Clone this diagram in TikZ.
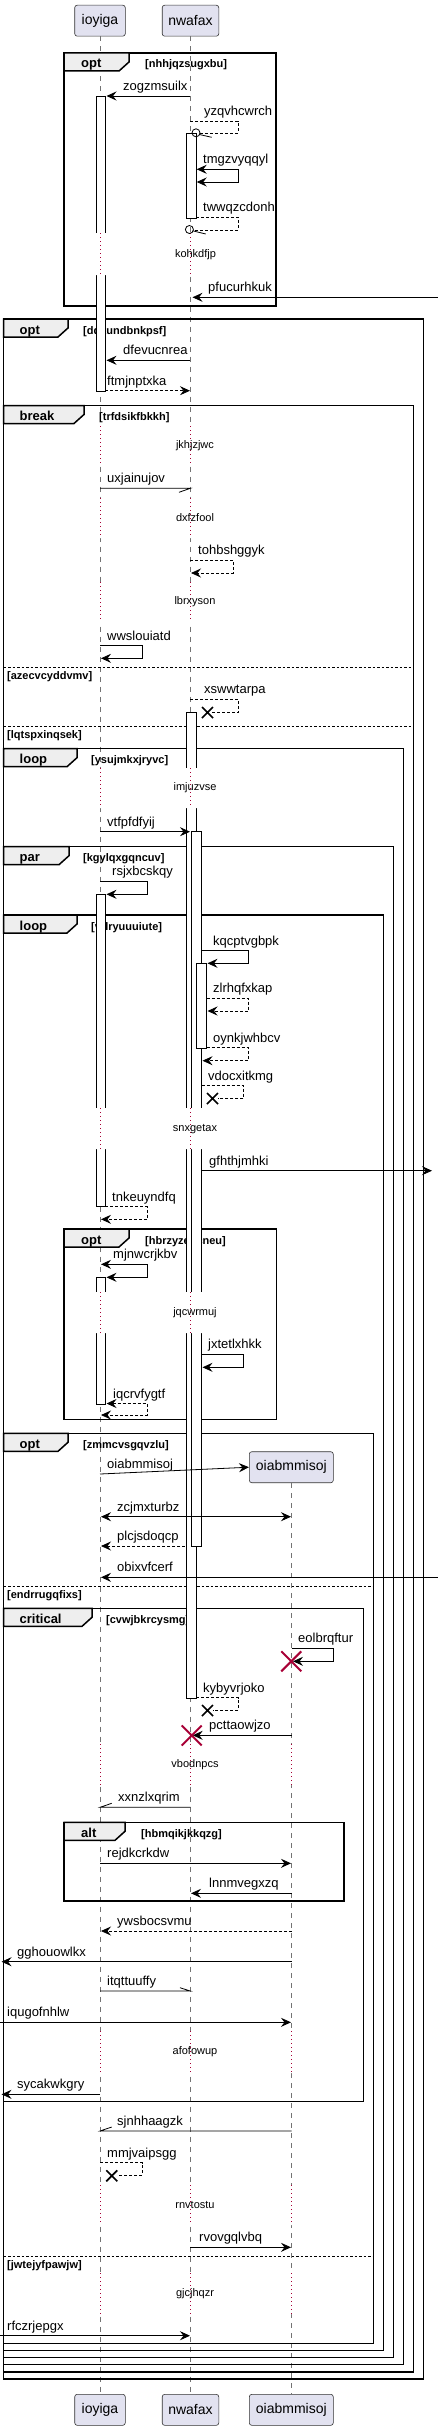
\documentclass[tikz,border=0pt]{standalone}
\usepackage{fontspec}
\setmainfont{Liberation Sans}
\usetikzlibrary{arrows.meta}
\definecolor{headfill}{HTML}{E2E2F0}
\definecolor{tabfill}{HTML}{EEEEEE}
\definecolor{pausered}{HTML}{A80036}
\tikzset{
  head/.style={draw=black!80, fill=headfill, rounded corners=2.5pt, line width=0.6pt,
    minimum height=31pt, inner sep=0pt, font=\fontsize{14}{16}\selectfont},
  lifeline/.style={black!55, line width=0.7pt, dash pattern=on 5pt off 5pt},
  pauseline/.style={pausered, line width=0.8pt, dash pattern=on 1pt off 3pt},
  pausetext/.style={inner sep=0pt, font=\fontsize{11}{13}\selectfont},
  fragment/.style={line width=1.5pt},
  fragtab/.style={fill=tabfill, line width=1.5pt},
  kindtext/.style={anchor=base west, inner sep=0pt, font=\bfseries\fontsize{13}{15}\selectfont},
  guard/.style={anchor=base west, inner sep=0pt, font=\bfseries\fontsize{11}{13}\selectfont},
  elseline/.style={line width=0.9pt, dash pattern=on 2.5pt off 2pt},
  activation/.style={draw, fill=white, line width=0.8pt},
  call/.style={line width=0.8pt, ->},
  callback/.style={line width=0.8pt, <->},
  reply/.style={call, dash pattern=on 3pt off 2pt},
  replyback/.style={callback, dash pattern=on 3pt off 2pt},
  dashmsg/.style={line width=0.8pt, dash pattern=on 3pt off 2pt},
  halfmsg/.style={line width=0.8pt},
  lost/.style={line width=1.6pt},
  destroyed/.style={pausered, line width=2pt},
  msgtext/.style={anchor=base west, inner sep=0pt, font=\fontsize{13}{15}\selectfont},
}
\begin{document}
\begin{tikzpicture}[x=1pt, y=-1pt, >={Stealth[length=10pt, width=9pt, inset=3.5pt]}]
  \useasboundingbox (0,0) rectangle (438,2430);

  % participants
  \node[head, minimum width=50.6pt] (ioyigatop) at (100,20.7) {ioyiga};
  \node[head, minimum width=56.6pt] (nwafaxtop) at (190.5,20.7) {nwafax};
  \node[head, minimum width=84pt] (oiabmmisoj) at (291.3,1467.2) {oiabmmisoj};
  \node[head, minimum width=50.6pt] (ioyigabot) at (100,2409.8) {ioyiga};
  \node[head, minimum width=56.6pt] (nwafaxbot) at (190.5,2409.8) {nwafax};
  \node[head, minimum width=84pt] (oiabmmisojbot) at (291.3,2409.8) {oiabmmisoj};

  \draw[lifeline] (ioyigatop) -- (ioyigabot);
  \draw[lifeline] (nwafaxtop) -- (nwafaxbot);
  \draw[lifeline] (oiabmmisoj) -- (oiabmmisojbot);

  % fragments
  \draw[fragment] (64,53) rectangle (276,306);
  \draw[fragtab] (64,53) -- (129,53) -- (129,62) -- (119,71) -- (64,71) -- cycle;
  \node[kindtext] (opta) at (81,68) {opt};
  \node[guard] (gopta) at (145,68) {[nhhjqzsugxbu]};

  \draw[fragment] (3.5,319) rectangle (423.3,2379);
  \draw[fragtab] (3.5,319) -- (68,319) -- (68,328) -- (58,337) -- (3.5,337) -- cycle;
  \node[kindtext] (optb) at (19.5,334) {opt};
  \node[guard] (goptb) at (83,334) {[dqkundbnkpsf]};

  \draw[fragment] (3.5,405.5) rectangle (413.3,2372);
  \draw[fragtab] (3.5,405.5) -- (84,405.5) -- (84,414.5) -- (74,423.5) -- (3.5,423.5) -- cycle;
  \node[kindtext] (breaka) at (19.5,420.5) {break};
  \node[guard] (gbreaka) at (99,420.5) {[trfdsikfbkkh]};
  \draw[elseline] (3.5,667) -- (413.3,667);
  \node[guard] (gelsea) at (7,679) {[azecvcyddvmv]};
  \draw[elseline] (3.5,726) -- (413.3,726);
  \node[guard] (gelseb) at (7,738) {[lqtspxinqsek]};

  \draw[fragment] (3.5,748.7) rectangle (403.3,2364.7);
  \draw[fragtab] (3.5,748.7) -- (77,748.7) -- (77,757.7) -- (67,766.7) -- (3.5,766.7) -- cycle;
  \node[kindtext] (loopa) at (19.5,763.7) {loop};
  \node[guard] (gloopa) at (91,763.7) {[ysujmkxjryvc]};

  \draw[fragment] (3.5,846.7) rectangle (393.3,2357.7);
  \draw[fragtab] (3.5,846.7) -- (69,846.7) -- (69,855.7) -- (59,864.7) -- (3.5,864.7) -- cycle;
  \node[kindtext] (para) at (19.5,861.7) {par};
  \node[guard] (gpara) at (83,861.7) {[kgylqxgqncuv]};

  \draw[fragment] (3.5,915) rectangle (383.3,2350.7);
  \draw[fragtab] (3.5,915) -- (77,915) -- (77,924) -- (67,933) -- (3.5,933) -- cycle;
  \node[kindtext] (loopb) at (19.5,930) {loop};
  \node[guard] (gloopb) at (91,930) {[vrlryuuuiute]};

  \draw[fragment] (64,1229) rectangle (276.7,1419.3);
  \draw[fragtab] (64,1229) -- (129,1229) -- (129,1238) -- (119,1247) -- (64,1247) -- cycle;
  \node[kindtext] (optc) at (81,1244) {opt};
  \node[guard] (goptc) at (145,1244) {[hbrzyzeqcneu]};

  \draw[fragment] (3.5,1433.3) rectangle (373.3,2343.3);
  \draw[fragtab] (3.5,1433.3) -- (68,1433.3) -- (68,1442.3) -- (58,1451.3) -- (3.5,1451.3) -- cycle;
  \node[kindtext] (optd) at (19.5,1448.3) {opt};
  \node[guard] (goptd) at (83,1448.3) {[zmmcvsgqvzlu]};
  \draw[elseline] (3.5,1586) -- (373.3,1586);
  \node[guard] (gelsec) at (7,1598) {[endrrugqfixs]};
  \draw[elseline] (3.5,2256) -- (373.3,2256);
  \node[guard] (gelsed) at (7,2268) {[jwtejyfpawjw]};

  \draw[fragment] (3.5,1608.3) rectangle (363.3,2101.7);
  \draw[fragtab] (3.5,1608.3) -- (92,1608.3) -- (92,1617.3) -- (82,1626.3) -- (3.5,1626.3) -- cycle;
  \node[kindtext] (criticala) at (19.5,1623.3) {critical};
  \node[guard] (gcriticala) at (106,1623.3) {[cvwjbkrcysmg]};

  \draw[fragment] (64,1822.3) rectangle (344,1901);
  \draw[fragtab] (64,1822.3) -- (125,1822.3) -- (125,1831.3) -- (115,1840.3) -- (64,1840.3) -- cycle;
  \node[kindtext] (alta) at (81,1837.3) {alt};
  \node[guard] (galta) at (141,1837.3) {[hbmqikjkkqzg]};

  % activations
  \draw[activation] (96,96) rectangle (105.3,391);
  \draw[activation] (186,133) rectangle (196,218.3);
  \draw[activation] (186,712) rectangle (196,1698);
  \draw[activation] (191.7,831.7) rectangle (201.7,1546);
  \draw[activation] (196.3,963.3) rectangle (206.7,1048.3);
  \draw[activation] (96,894.3) rectangle (105.3,1206.7);
  \draw[activation] (96,1277.3) rectangle (105.3,1404);

  % delays
  \fill[white] (92,233) rectangle (109,275) (182,233) rectangle (206,275);
  \draw[pauseline] (100,233) -- (100,275) (190.3,233) -- (190.3,275);
  \node[pausetext] (kohkdfjp) at (195.5,255) {kohkdfjp};
  \fill[white] (92,426) rectangle (109,466) (182,426) rectangle (206,466);
  \draw[pauseline] (100,426) -- (100,466) (190.3,426) -- (190.3,466);
  \node[pausetext] (jkhjzjwc) at (195,446) {jkhjzjwc};
  \fill[white] (92,498) rectangle (109,538) (182,498) rectangle (206,538);
  \draw[pauseline] (100,498) -- (100,538) (190.3,498) -- (190.3,538);
  \node[pausetext] (dxfzfool) at (195,518) {dxfzfool};
  \fill[white] (92,582) rectangle (109,622) (182,582) rectangle (206,622);
  \draw[pauseline] (100,582) -- (100,622) (190.3,582) -- (190.3,622);
  \node[pausetext] (lbrxyson) at (195,602) {lbrxyson};
  \fill[white] (92,768) rectangle (109,808) (182,768) rectangle (206,808);
  \draw[pauseline] (100,768) -- (100,808) (190.3,768) -- (190.3,808);
  \node[pausetext] (imjuzvse) at (195,788) {imjuzvse};
  \fill[white] (92,1108) rectangle (109,1149) (182,1108) rectangle (206,1149);
  \draw[pauseline] (100,1108) -- (100,1149) (190.3,1108) -- (190.3,1149);
  \node[pausetext] (snxgetax) at (195,1129) {snxgetax};
  \fill[white] (92,1292) rectangle (109,1333) (182,1292) rectangle (206,1333);
  \draw[pauseline] (100,1292) -- (100,1333) (190.3,1292) -- (190.3,1333);
  \node[pausetext] (jqcwrmuj) at (195,1313) {jqcwrmuj};
  \fill[white] (92,1744) rectangle (109,1785) (182,1744) rectangle (206,1785) (286,1744) rectangle (297,1785);
  \draw[pauseline] (100,1744) -- (100,1785) (190.3,1744) -- (190.3,1785) (291.7,1744) -- (291.7,1785);
  \node[pausetext] (vbodnpcs) at (195,1765) {vbodnpcs};
  \fill[white] (92,2031) rectangle (109,2073) (182,2031) rectangle (206,2073) (286,2031) rectangle (297,2073);
  \draw[pauseline] (100,2031) -- (100,2073) (190.3,2031) -- (190.3,2073) (291.7,2031) -- (291.7,2073);
  \node[pausetext] (afofowup) at (195,2052) {afofowup};
  \fill[white] (92,2185) rectangle (109,2225) (182,2185) rectangle (206,2225) (286,2185) rectangle (297,2225);
  \draw[pauseline] (100,2185) -- (100,2225) (190.3,2185) -- (190.3,2225) (291.7,2185) -- (291.7,2225);
  \node[pausetext] (rnvtostu) at (195,2205) {rnvtostu};
  \fill[white] (92,2273) rectangle (109,2314) (182,2273) rectangle (206,2314) (286,2273) rectangle (297,2314);
  \draw[pauseline] (100,2273) -- (100,2314) (190.3,2273) -- (190.3,2314) (291.7,2273) -- (291.7,2314);
  \node[pausetext] (gjcjhqzr) at (195,2294) {gjcjhqzr};

  % messages
  \draw[call] (190.3,96) -- (106.5,96);
  \node[msgtext] (zogzmsuilx) at (123,90.5) {zogzmsuilx};
  \draw[dashmsg] (190.3,121) -- (238,121) -- (238,133) -- (200,133);
  \draw[line width=0.8pt] (196,132.8) circle [radius=4pt] (199.8,134.6) -- (211.7,137.3);
  \node[msgtext] (yzqvhcwrch) at (204,115.5) {yzqvhcwrch};
  \draw[callback] (196.7,169.3) -- (238,169.3) -- (238,182) -- (196.7,182);
  \node[msgtext] (tmgzvyqqyl) at (203,163.8) {tmgzvyqqyl};
  \draw[dashmsg] (196,217.3) -- (238,217.3) -- (238,230) -- (193.5,230);
  \draw[line width=0.8pt] (189.4,229.5) circle [radius=4pt] (193.5,231) -- (205.7,234);
  \node[msgtext] (twwqzcdonh) at (203,211.8) {twwqzcdonh};
  \draw[call] (438,297.3) -- (192.5,297.3);
  \node[msgtext] (pfucurhkuk) at (208,291.8) {pfucurhkuk};

  \draw[call] (190.3,360.3) -- (106.5,360.3);
  \node[msgtext] (dfevucnrea) at (123,354.8) {dfevucnrea};
  \draw[reply] (105.3,390.7) -- (190,390.7);
  \node[msgtext] (ftmjnptxka) at (107,385.2) {ftmjnptxka};
  \draw[halfmsg] (100,488.3) -- (190.3,488.3) -- (179,492.3);
  \node[msgtext] (uxjainujov) at (107,482.8) {uxjainujov};
  \draw[reply] (190.3,560.3) -- (233.3,560.3) -- (233.3,573) -- (191,573);
  \node[msgtext] (tohbshggyk) at (198,554.8) {tohbshggyk};
  \draw[call] (100,645.7) -- (142.3,645.7) -- (142.3,658.3) -- (101,658.3);
  \node[msgtext] (wwslouiatd) at (107,640.2) {wwslouiatd};
  \draw[dashmsg] (190.3,699) -- (238.3,699) -- (238.3,712.3) -- (212,712.3);
  \draw[lost] (202,707) -- (213,718) (202,718) -- (213,707);
  \node[msgtext] (xswwtarpa) at (204,693.5) {xswwtarpa};

  \draw[call] (100,831.7) -- (190,831.7);
  \node[msgtext] (vtfpfdfyij) at (107,826.2) {vtfpfdfyij};
  \draw[call] (100,881.3) -- (147.3,881.3) -- (147.3,894.3) -- (106.5,894.3);
  \node[msgtext] (rsjxbcskqy) at (112,875.8) {rsjxbcskqy};
  \draw[call] (201.7,950.7) -- (248.3,950.7) -- (248.3,963.3) -- (207.5,963.3);
  \node[msgtext] (kqcptvgbpk) at (213,945.2) {kqcptvgbpk};
  \draw[reply] (206.7,998.3) -- (248.3,998.3) -- (248.3,1011) -- (207.5,1011);
  \node[msgtext] (zlrhqfxkap) at (213,992.8) {zlrhqfxkap};
  \draw[reply] (206.7,1047.7) -- (248.3,1047.7) -- (248.3,1060.7) -- (202.5,1060.7);
  \node[msgtext] (oynkjwhbcv) at (213,1042.2) {oynkjwhbcv};
  \draw[dashmsg] (201.7,1085.7) -- (243.7,1085.7) -- (243.7,1098.3) -- (218,1098.3);
  \draw[lost] (207,1093) -- (218,1104) (207,1104) -- (218,1093);
  \node[msgtext] (vdocxitkmg) at (208,1080.2) {vdocxitkmg};
  \draw[call] (201.7,1170.7) -- (432,1170.7);
  \node[msgtext] (gfhthjmhki) at (209,1165.2) {gfhthjmhki};
  \draw[reply] (105.3,1206.7) -- (147.3,1206.7) -- (147.3,1219.3) -- (101,1219.3);
  \node[msgtext] (tnkeuyndfq) at (112,1201.2) {tnkeuyndfq};

  \draw[callback] (101,1264.3) -- (147.3,1264.3) -- (147.3,1277.3) -- (106.5,1277.3);
  \node[msgtext] (mjnwcrjkbv) at (113,1258.8) {mjnwcrjkbv};
  \draw[call] (201.7,1354.3) -- (243.7,1354.3) -- (243.7,1367.3) -- (202.5,1367.3);
  \node[msgtext] (jxtetlxhkk) at (208,1348.8) {jxtetlxhkk};
  \draw[replyback] (106.5,1403.5) -- (147.3,1403.5) -- (147.3,1415) -- (101,1415);
  \node[msgtext] (iqcrvfygtf) at (113,1398) {iqcrvfygtf};

  \draw[call] (100,1474) -- (oiabmmisoj.west);
  \node[msgtext] (oiabmmisojmsg) at (107,1468.5) {oiabmmisoj};
  \draw[callback] (101,1516.7) -- (291,1516.7);
  \node[msgtext] (zcjmxturbz) at (117,1511.2) {zcjmxturbz};
  \draw[reply] (185,1546) -- (101,1546);
  \node[msgtext] (plcjsdoqcp) at (117,1540.5) {plcjsdoqcp};
  \draw[call] (438,1577.3) -- (101,1577.3);
  \node[msgtext] (obixvfcerf) at (117,1571.8) {obixvfcerf};

  \draw[call] (291.7,1648.3) -- (333.3,1648.3) -- (333.3,1661.3) -- (293,1661.3);
  \draw[destroyed] (281.3,1651.3) -- (301.3,1671.3) (281.3,1671.3) -- (301.3,1651.3);
  \node[msgtext] (eolbrqftur) at (298,1642.8) {eolbrqftur};
  \draw[dashmsg] (196,1697.7) -- (238.3,1697.7) -- (238.3,1710.3) -- (213,1710.3);
  \draw[lost] (202,1705) -- (213,1716) (202,1716) -- (213,1705);
  \node[msgtext] (kybyvrjoko) at (203,1692.2) {kybyvrjoko};
  \draw[call] (291.7,1735.3) -- (192.7,1735.3);
  \draw[destroyed] (181.7,1725.5) -- (201.7,1745.5) (181.7,1745.5) -- (201.7,1725.5);
  \node[msgtext] (pcttaowjzo) at (209,1729.8) {pcttaowjzo};
  \draw[halfmsg] (190.3,1807.3) -- (100,1807.3) -- (111.7,1803.3);
  \node[msgtext] (xxnzlxqrim) at (118,1801.8) {xxnzlxqrim};

  \draw[call] (100,1863.3) -- (291,1863.3);
  \node[msgtext] (rejdkcrkdw) at (107,1857.8) {rejdkcrkdw};
  \draw[call] (291.7,1893.3) -- (191,1893.3);
  \node[msgtext] (lnnmvegxzq) at (209,1887.8) {lnnmvegxzq};
  \draw[reply] (291.7,1931) -- (101,1931);
  \node[msgtext] (ywsbocsvmu) at (117,1925.5) {ywsbocsvmu};
  \draw[call] (291.7,1961.7) -- (1.5,1961.7);
  \node[msgtext] (gghouowlkx) at (17,1956.2) {gghouowlkx};
  \draw[halfmsg] (100,1991) -- (190.3,1991) -- (180,1987.7);
  \node[msgtext] (itqttuuffy) at (107,1985.5) {itqttuuffy};
  \draw[call] (0,2022.3) -- (291,2022.3);
  \node[msgtext] (iqugofnhlw) at (7,2016.8) {iqugofnhlw};
  \draw[call] (100,2094.3) -- (1.5,2094.3);
  \node[msgtext] (sycakwkgry) at (17,2088.8) {sycakwkgry};

  \draw[halfmsg] (291.7,2131) -- (100,2131) -- (111.7,2127);
  \node[msgtext] (sjnhhaagzk) at (117,2125.5) {sjnhhaagzk};
  \draw[dashmsg] (100,2162.7) -- (142.3,2162.7) -- (142.3,2175.3) -- (117.5,2175.3);
  \draw[lost] (106.3,2170.3) -- (117.3,2181.3) (106.3,2181.3) -- (117.3,2170.3);
  \node[msgtext] (mmjvaipsgg) at (107,2157.2) {mmjvaipsgg};
  \draw[call] (190.3,2247.3) -- (291,2247.3);
  \node[msgtext] (rvovgqlvbq) at (199,2241.8) {rvovgqlvbq};
  \draw[call] (0,2335.7) -- (190,2335.7);
  \node[msgtext] (rfczrjepgx) at (7,2330.2) {rfczrjepgx};
\end{tikzpicture}
\end{document}
